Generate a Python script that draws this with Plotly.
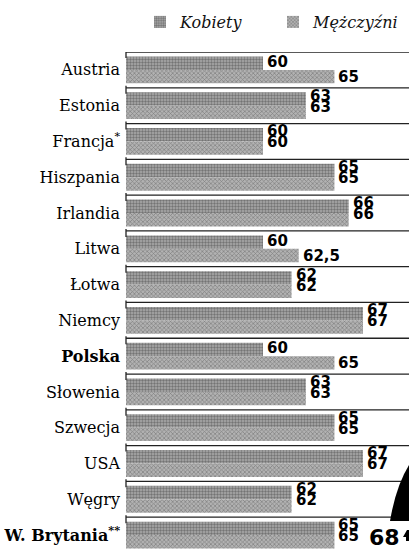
import plotly.graph_objects as go

countries = ["Austria", "Estonia", "Francja<sup>*</sup>", "Hiszpania", "Irlandia", "Litwa",
             "Łotwa", "Niemcy", "<b>Polska</b>", "Słowenia", "Szwecja", "USA", "Węgry",
             "<b>W. Brytania<sup>**</sup></b>"]
kobiety = [60, 63, 60, 65, 66, 60, 62, 67, 60, 63, 65, 67, 62, 65]
mezczyzni = [65, 63, 60, 65, 66, 62.5, 62, 67, 65, 63, 65, 67, 62, 65]
uk_future = 68

def fmt(v):
    return f"{v:g}".replace(".", ",")

W, H = 409, 549
ML, MT = 126, 52
PW, PH = W - ML, H - MT

fig = go.Figure()
fig.add_trace(go.Bar(
    name="Kobiety", y=countries, x=kobiety, orientation="h",
    marker=dict(color="#a0a0a0", line=dict(width=0),
                pattern=dict(shape=".", fgcolor="#3c3c3c", bgcolor="#acacac", size=3, solidity=0.5)),
))
fig.add_trace(go.Bar(
    name="Mężczyźni", y=countries, x=mezczyzni, orientation="h",
    marker=dict(color="#a0a0a0", line=dict(width=0),
                pattern=dict(shape="x", fgcolor="#4a4a4a", bgcolor="#b2b2b2", size=3, solidity=0.4)),
))

num_font = dict(family="DejaVu Sans", size=15, color="#000", weight="bold")
annotations = []
for c, k, m in zip(countries, kobiety, mezczyzni):
    eq = (k == m)
    annotations.append(dict(x=k, y=c, xref="x", yref="y", text=fmt(k), showarrow=False,
                            xanchor="left", yanchor="middle", xshift=2,
                            yshift=10 if eq else 8, font=num_font))
    annotations.append(dict(x=m, y=c, xref="x", yref="y", text=fmt(m), showarrow=False,
                            xanchor="left", yanchor="middle", xshift=2,
                            yshift=-1 if eq else -7, font=num_font))
annotations.append(dict(x=uk_future, y=countries[-1], xref="x", yref="y", text=str(uk_future),
                        showarrow=False, xanchor="left", yanchor="middle", xshift=-10, yshift=-2,
                        font=dict(family="DejaVu Sans", size=22, color="#000", weight="bold")))

shapes = []
for i in range(len(countries)):
    shapes.append(dict(type="line", xref="paper", yref="y", x0=0, x1=1, y0=i - 0.5, y1=i - 0.5,
                       line=dict(color="#222", width=1.3)))
    shapes.append(dict(type="line", xref="paper", yref="y", ysizemode="pixel", yanchor=i - 0.5,
                       x0=0, x1=0, y0=2, y1=-6, line=dict(color="#222", width=1.3)))

def px(x):
    return (x - ML) / PW

def py(y):
    return (H - y) / PH

shapes.append(dict(type="path", xref="paper", yref="paper", fillcolor="#000", line=dict(width=0),
                   path=f"M {px(390)},{py(521)} Q {px(396)},{py(486)} {px(409)},{py(465)} "
                        f"L {px(409)},{py(521)} Z"))
shapes.append(dict(type="path", xref="paper", yref="paper", fillcolor="#000", line=dict(width=0),
                   path=f"M {px(403)},{py(537)} L {px(407)},{py(530)} L {px(409)},{py(530)} "
                        f"L {px(409)},{py(541)} L {px(406)},{py(541)} L {px(406)},{py(537)} Z"))

fig.update_layout(
    width=W, height=H,
    margin=dict(l=ML, r=0, t=MT, b=0, pad=0, autoexpand=False),
    paper_bgcolor="white", plot_bgcolor="white",
    barmode="group", bargap=0.25, bargroupgap=0,
    showlegend=True,
    legend=dict(orientation="h", x=px(140), y=1 + (MT - 22) / PH, xanchor="left", yanchor="middle",
                font=dict(family="DejaVu Serif", size=16, style="italic", color="#111"),
                entrywidth=88, entrywidthmode="pixels", bgcolor="rgba(0,0,0,0)"),
    xaxis=dict(range=[50.41, 70.22], visible=False, showgrid=False, zeroline=False),
    yaxis=dict(range=[13.39, -0.5], showgrid=False, zeroline=False, showline=False, ticks="",
               ticklabelstandoff=5,
               tickfont=dict(family="DejaVu Serif", size=16, color="#000")),
    annotations=annotations, shapes=shapes,
)

fig.write_html("out.html", post_script="document.body.style.margin='0px';",
               config={"displayModeBar": False})
